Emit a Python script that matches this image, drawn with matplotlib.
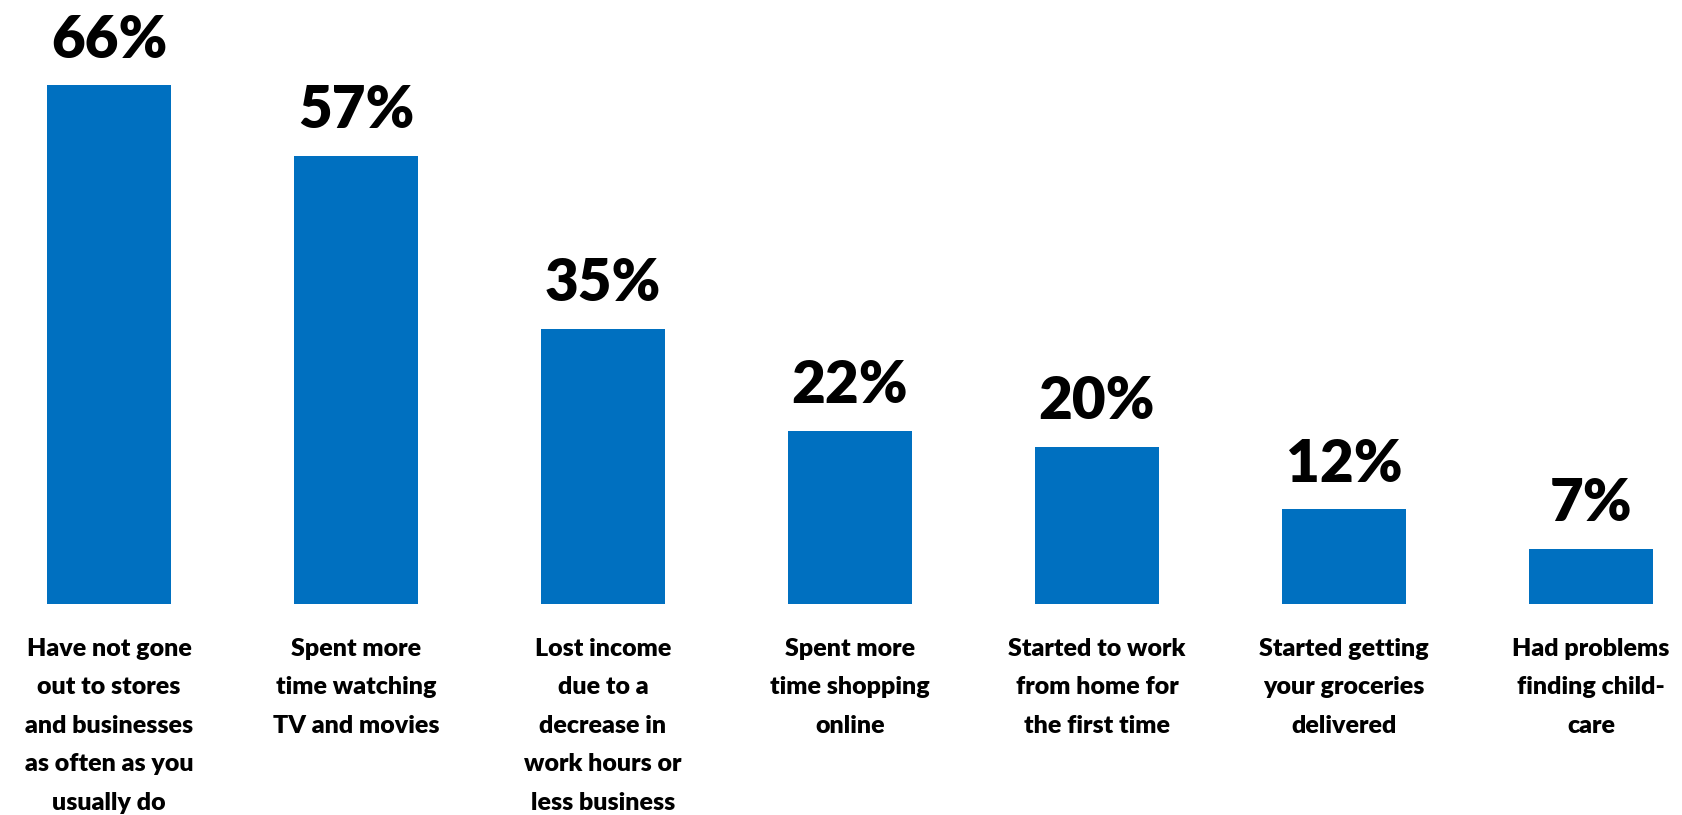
import matplotlib
matplotlib.use("Agg")
import matplotlib.pyplot as plt

categories = [
    "Have not gone\nout to stores\nand businesses\nas often as you\nusually do",
    "Spent more\ntime watching\nTV and movies",
    "Lost income\ndue to a\ndecrease in\nwork hours or\nless business",
    "Spent more\ntime shopping\nonline",
    "Started to work\nfrom home for\nthe first time",
    "Started getting\nyour groceries\ndelivered",
    "Had problems\nfinding child-\ncare",
]
values = [66, 57, 35, 22, 20, 12, 7]
value_labels = ["66%", "57%", "35%", "22%", "20%", "12%", "7%"]

BLUE = "#0070C0"
FONT = "Lato"

fig = plt.figure(figsize=(16.82, 8.15), dpi=100)
ax = fig.add_axes([0, (815 - 603.5) / 815, 1, 603.5 / 815])
x = list(range(len(values)))
bars = ax.bar(x, values, width=0.5, color=BLUE)
ax.set_xlim(-109 / 247, (1682 - 109) / 247)
ax.set_ylim(0, 603.5 / 7.85)

for xi, v, lab in zip(x, values, value_labels):
    ax.annotate(lab, (xi, v), xytext=(0, 20), textcoords="offset points",
                ha="center", va="baseline", fontsize=42, fontweight="heavy",
                family=FONT, color="black")

ax.set_xticks(x)
ax.set_xticklabels(categories, fontsize=18, fontweight="heavy", family=FONT,
                   linespacing=1.92)
ax.tick_params(axis="x", length=0, pad=24.5)
ax.set_yticks([])
for s in ax.spines.values():
    s.set_visible(False)

fig.savefig("out.png", dpi=100)
